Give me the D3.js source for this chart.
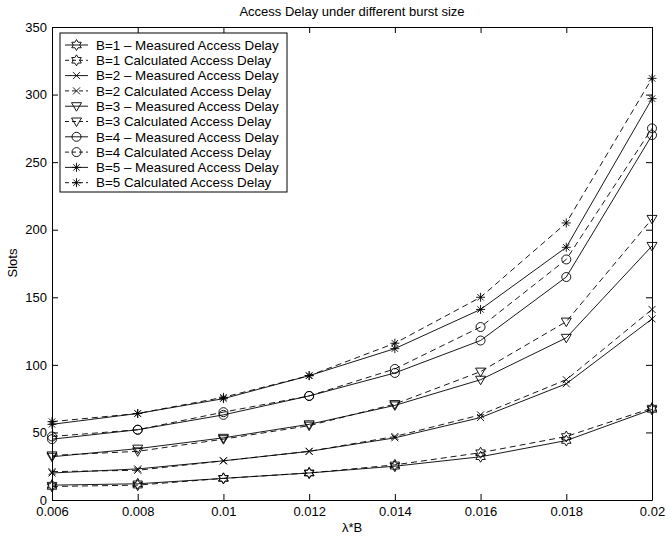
<!DOCTYPE html>
<html>
<head>
<meta charset="utf-8">
<script src="https://cdn.jsdelivr.net/npm/d3@7"></script>
<style>
    body { margin: 0; background: #fff; }
    text { font-family: "Liberation Sans", Arial, Helvetica, sans-serif; font-size: 13px; fill: #000; }
</style>
</head>
<body>
<svg id="chart" width="666" height="539"></svg>
<script>
/*global d3 */
var lambdaB = [0.006, 0.008, 0.01, 0.012, 0.014, 0.016, 0.018, 0.02];
var xTickLabels = ["0.006", "0.008", "0.01", "0.012", "0.014", "0.016", "0.018", "0.02"];
var yTicks = [0, 50, 100, 150, 200, 250, 300, 350];

var b1Measured = [11, 12, 16, 20, 25, 32, 44, 67];
var b1Calculated = [10, 11, 16, 20, 26, 35, 47, 68];
var b2Measured = [20, 23, 29, 36, 46, 61, 86, 134];
var b2Calculated = [21, 22, 29, 36, 47, 63, 89, 141];
var b3Measured = [32, 38, 46, 56, 70, 89, 120, 188];
var b3Calculated = [33, 36, 45, 55, 71, 95, 132, 208];
var b4Measured = [45, 52, 63, 77, 94, 118, 165, 270];
var b4Calculated = [47, 52, 65, 77, 97, 128, 178, 275];
var b5Measured = [56, 64, 75, 92, 112, 141, 187, 297];
var b5Calculated = [58, 64, 76, 92, 116, 150, 205, 312];

var legendLabels = [
    "B=1 \u2013 Measured Access Delay", "B=1 Calculated Access Delay",
    "B=2 \u2013 Measured Access Delay", "B=2 Calculated Access Delay",
    "B=3 \u2013 Measured Access Delay", "B=3 Calculated Access Delay",
    "B=4 \u2013 Measured Access Delay", "B=4 Calculated Access Delay",
    "B=5 \u2013 Measured Access Delay", "B=5 Calculated Access Delay"
];
var markerTypes = ["hexagram", "hexagram", "x", "x", "triangle", "triangle", "circle", "circle", "asterisk", "asterisk"];

var series = [b1Measured, b1Calculated, b2Measured, b2Calculated, b3Measured, b3Calculated,
    b4Measured, b4Calculated, b5Measured, b5Calculated].map(function (vals, i) {
    "use strict";
    return {values: vals, label: legendLabels[i], marker: markerTypes[i], dashed: i % 2 === 1};
});

var markerPath = function (type) {
    "use strict";
    var p = d3.path(), k, a, r;
    if (type === "circle") {
        p.moveTo(4.5, 0);
        p.arc(0, 0, 4.5, 0, 2 * Math.PI);
    } else if (type === "x") {
        p.moveTo(-3.5, -3.5); p.lineTo(3.5, 3.5);
        p.moveTo(-3.5, 3.5); p.lineTo(3.5, -3.5);
    } else if (type === "triangle") {
        p.moveTo(-5, -3.5); p.lineTo(5, -3.5); p.lineTo(0, 5); p.closePath();
    } else if (type === "asterisk") {
        p.moveTo(-4.5, 0); p.lineTo(4.5, 0);
        p.moveTo(0, -4.5); p.lineTo(0, 4.5);
        p.moveTo(-3.2, -3.2); p.lineTo(3.2, 3.2);
        p.moveTo(-3.2, 3.2); p.lineTo(3.2, -3.2);
    } else {
        for (k = 0; k < 12; k += 1) {
            a = -Math.PI / 2 + k * Math.PI / 6;
            r = (k % 2 === 0) ? 5.5 : 5.5 / Math.sqrt(3);
            if (k === 0) { p.moveTo(r * Math.cos(a), r * Math.sin(a)); } else { p.lineTo(r * Math.cos(a), r * Math.sin(a)); }
        }
        p.closePath();
    }
    return p.toString();
};

var svg = d3.select("#chart");
var x = d3.scaleLinear().domain([0.006, 0.02]).range([52, 652]);
var y = d3.scaleLinear().domain([0, 350]).range([500, 27]);

// axes, ticks pointing inward on all four sides
svg.append("g").attr("transform", "translate(0,500)")
    .call(d3.axisBottom(x).tickValues(lambdaB).tickFormat(function (d, i) { return xTickLabels[i]; })
        .tickSizeInner(-6).tickSizeOuter(0).tickPadding(7));
svg.append("g").attr("transform", "translate(0,27)")
    .call(d3.axisTop(x).tickValues(lambdaB).tickFormat("").tickSizeInner(-6).tickSizeOuter(0));
svg.append("g").attr("transform", "translate(52,0)")
    .call(d3.axisLeft(y).tickValues(yTicks).tickSizeInner(-6).tickSizeOuter(0).tickPadding(5));
svg.append("g").attr("transform", "translate(652,0)")
    .call(d3.axisRight(y).tickValues(yTicks).tickFormat("").tickSizeInner(-6).tickSizeOuter(0));
svg.selectAll(".domain, .tick line").attr("stroke", "#000").attr("stroke-width", 1);
svg.selectAll(".tick text").attr("font-size", 13).attr("font-family", "Liberation Sans, Arial, sans-serif").attr("fill", "#000");

var line = d3.line().x(function (d, i) { return x(lambdaB[i]); }).y(function (d) { return y(d); });

var groups = svg.append("g").selectAll("g").data(series).enter().append("g");
groups.append("path")
    .attr("d", function (d) { return line(d.values); })
    .attr("fill", "none")
    .attr("stroke", "#000")
    .attr("stroke-width", 0.9)
    .attr("stroke-dasharray", function (d) { return d.dashed ? "6,4" : null; });
groups.selectAll(".mk").data(function (d) { return d.values.map(function (v, i) { return {v: v, i: i, m: d.marker}; }); })
    .enter().append("path").attr("class", "mk")
    .attr("transform", function (d) { return "translate(" + x(lambdaB[d.i]) + "," + y(d.v) + ")"; })
    .attr("d", function (d) { return markerPath(d.m); })
    .attr("fill", "none")
    .attr("stroke", "#000")
    .attr("stroke-width", 0.9);

// legend
var legend = svg.append("g");
legend.append("rect").attr("x", 60).attr("y", 33).attr("width", 227).attr("height", 159)
    .attr("fill", "#fff").attr("stroke", "#000").attr("stroke-width", 1);
var rows = legend.selectAll("g.row").data(series).enter().append("g").attr("class", "row")
    .attr("transform", function (d, i) { return "translate(0," + (45 + i * 15.3) + ")"; });
rows.append("line").attr("x1", 65).attr("x2", 88).attr("y1", 0).attr("y2", 0)
    .attr("stroke", "#000").attr("stroke-width", 0.9)
    .attr("stroke-dasharray", function (d) { return d.dashed ? "4,3" : null; });
rows.append("path").attr("transform", "translate(76.5,0)")
    .attr("d", function (d) { return markerPath(d.marker); })
    .attr("fill", "none").attr("stroke", "#000").attr("stroke-width", 0.9);
rows.append("text").attr("x", 96).attr("y", 0).attr("dy", "0.35em").style("font-size", "13.4px")
    .text(function (d) { return d.label; });

// titles
svg.append("text").attr("x", 352).attr("y", 16).attr("text-anchor", "middle").text("Access Delay under different burst size");
svg.append("text").attr("x", 352).attr("y", 532).attr("text-anchor", "middle").text("\u03bb*B");
svg.append("text").attr("transform", "translate(17,263) rotate(-90)").attr("text-anchor", "middle").text("Slots");
</script>
</body>
</html>
